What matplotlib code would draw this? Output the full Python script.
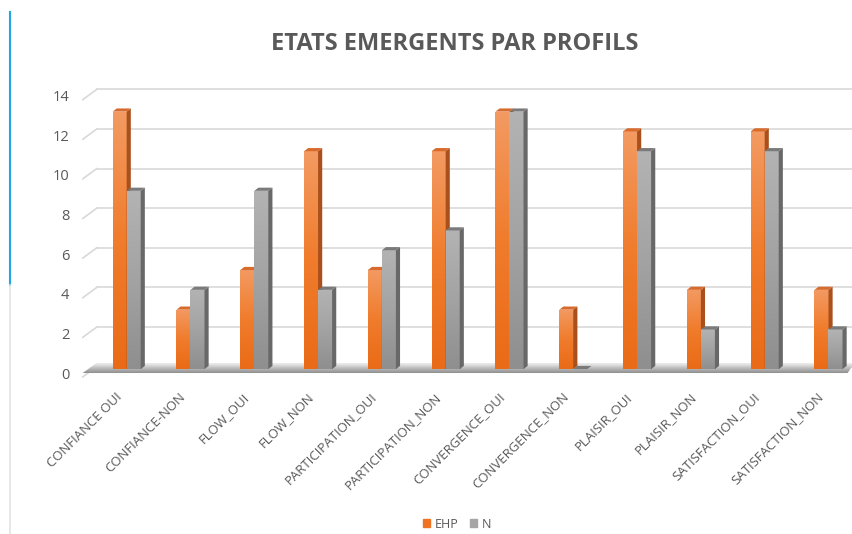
import numpy as np
import matplotlib
matplotlib.use("Agg")
import matplotlib.pyplot as plt
from matplotlib.patches import Polygon, Patch
from matplotlib.lines import Line2D

categories = ["CONFIANCE OUI", "CONFIANCE-NON", "FLOW_OUI", "FLOW_NON",
              "PARTICIPATION_OUI", "PARTICIPATION_NON", "CONVERGENCE_OUI",
              "CONVERGENCE_NON", "PLAISIR_OUI", "PLAISIR_NON",
              "SATISFACTION_OUI", "SATISFACTION_NON"]
ehp = [13, 3, 5, 11, 5, 11, 13, 3, 12, 4, 12, 4]
n_vals = [9, 4, 9, 4, 6, 7, 13, 0, 11, 2, 11, 2]
yticks = [0, 2, 4, 6, 8, 10, 12, 14]

TXT = "#595959"
plt.rcParams['font.family'] = ['Open Sans', 'DejaVu Sans']

fig = plt.figure(figsize=(8.53, 5.34), dpi=100)
ax = fig.add_axes([82 / 853, 155 / 534, 772 / 853, 307 / 534])
ax.set_xlim(-0.7, 11.4)
ax.set_ylim(-0.5, 15)
for s in ax.spines.values():
    s.set_visible(False)

x = np.arange(len(categories))
w = 0.22
dx, dy = 0.065, 0.16  # 3d depth of the bars

# back wall gridlines with the little perspective stub on the left
for v in yticks:
    ax.plot([-0.47, 11.4], [v + 0.12, v + 0.12], color="#d9d9d9", lw=1.2, zorder=1)
    ax.plot([-0.69, -0.47], [v - 0.4, v + 0.12], color="#d9d9d9", lw=1.2, zorder=1)

# floor
floor = Polygon([[-0.69, -0.2], [11.3, -0.2], [11.4, 0.3], [-0.47, 0.3]],
                closed=True, facecolor="#cfcfcf", edgecolor="none", zorder=2)
ax.add_patch(floor)
grad = np.linspace(0, 1, 64).reshape(-1, 1)
im = ax.imshow(grad, cmap=matplotlib.colors.LinearSegmentedColormap.from_list(
    "fl", ["#8f8f8f", "#bdbdbd", "#f2f2f2"]), extent=[-0.7, 11.4, -0.2, 0.3],
    origin="lower", aspect="auto", zorder=2, interpolation="bilinear")
im.set_clip_path(floor)


def bars3d(xs, vals, front_cols, side, top, z):
    bars = ax.bar(xs, vals, width=w, align="edge", color=front_cols[1],
                  linewidth=0, zorder=z)
    cmap = matplotlib.colors.LinearSegmentedColormap.from_list("g", front_cols)
    for b, xl, v in zip(bars, xs, vals):
        g = ax.imshow(np.linspace(0, 1, 64).reshape(-1, 1), cmap=cmap,
                      extent=[xl, xl + w, 0, max(v, 0.01)], origin="lower",
                      aspect="auto", zorder=z, interpolation="bilinear")
        g.set_clip_path(b)
        xr = xl + w
        ax.add_patch(Polygon([[xr, 0], [xr, v], [xr + dx, v + dy], [xr + dx, dy]],
                             closed=True, facecolor=side, edgecolor="none", zorder=z))
        ax.add_patch(Polygon([[xl, v], [xr, v], [xr + dx, v + dy], [xl + dx, v + dy]],
                             closed=True, facecolor=top, edgecolor="none", zorder=z))


bars3d(x - w, ehp, ["#ea6b17", "#f07c2c", "#f39a62"], "#a9501c", "#d86a2c", 3)
bars3d(x, n_vals, ["#8f8f8f", "#a3a3a3", "#b3b3b3"], "#686868", "#7a7a7a", 4)

# labels sit a little lower than the back wall lines
ax.set_yticks([v - 0.2 for v in yticks])
ax.set_yticklabels([str(v) for v in yticks], fontsize=10.5, color=TXT)
ax.tick_params(axis="y", length=0, pad=9)
ax.set_xticks(x - 0.18)
ax.set_xticklabels(categories, rotation=45, ha="right", rotation_mode="anchor",
                   fontsize=9.5, color=TXT)
ax.tick_params(axis="x", length=0, pad=8)

fig.text(455 / 853, 1 - 44 / 534, "ETATS EMERGENTS PAR PROFILS", ha="center",
         va="center", fontsize=17, fontweight="bold", color=TXT)

handles = [Patch(color="#ee7423"), Patch(color="#a5a5a5")]
fig.legend(handles, ["EHP", "N"], loc="center", bbox_to_anchor=(457 / 853, 1 - 524 / 534),
           ncol=2, frameon=False, fontsize=9, handlelength=0.6, handleheight=0.6,
           columnspacing=0.9, handletextpad=0.35, labelcolor=TXT)

# screenshot edge on the left
fig.add_artist(Line2D([9.5 / 853, 9.5 / 853], [1 - 12 / 534, 1 - 285 / 534],
                      color="#1ea7e4", lw=1.5))
fig.add_artist(Line2D([9.5 / 853, 9.5 / 853], [0, 1 - 285 / 534],
                      color="#e3e3e3", lw=1.2))

fig.savefig("out.png", dpi=100)
